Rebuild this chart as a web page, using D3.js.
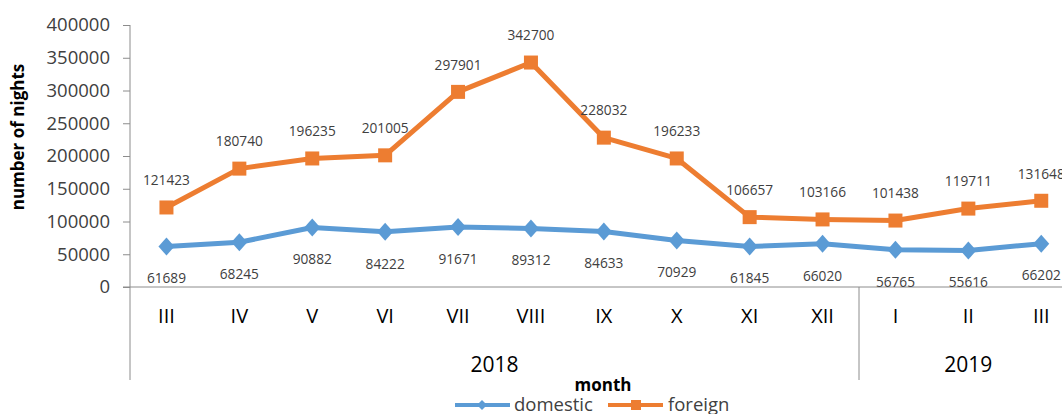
<!DOCTYPE html>
<html><head><meta charset="utf-8">
<script src="https://cdn.jsdelivr.net/npm/d3@7"></script>
<style>body{margin:0;background:#fff}svg{display:block;font-family:"Open Sans",sans-serif}</style>
</head><body><svg id="c" width="1062" height="414"></svg>
<script>
const months = ["III","IV","V","VI","VII","VIII","IX","X","XI","XII","I","II","III"];
const years = [{label:"2018", count:10},{label:"2019", count:3}];
const domestic = [61689,68245,90882,84222,91671,89312,84633,70929,61845,66020,56765,55616,66202];
const foreign = [121423,180740,196235,201005,297901,342700,228032,196233,106657,103166,101438,119711,131648];
const yTicks = [0,50000,100000,150000,200000,250000,300000,350000,400000];

const svg = d3.select("#c");
const x0 = 130, y0 = 287, yTop = 25, step = 72.9;
const idx = d3.range(months.length);
const x = d3.scaleBand().domain(idx).range([x0, x0 + step*months.length]).paddingInner(0).paddingOuter(0);
const y = d3.scaleLinear().domain([0,400000]).range([y0, yTop]);
const cx = i => x(i) + x.bandwidth()/2;
const axisCol = "#8c8c8c";

// y axis
const ya = svg.append("g").attr("transform",`translate(${x0},0)`)
  .call(d3.axisLeft(y).tickValues(yTicks).tickFormat(d3.format("d")).tickSize(7).tickPadding(13));
ya.select(".domain").remove();
ya.selectAll(".tick line").attr("stroke",axisCol);
ya.selectAll(".tick text").attr("font-size",18.5).attr("fill","#404040").attr("font-family","Open Sans");
svg.append("line").attr("x1",x0).attr("x2",x0).attr("y1",yTop).attr("y2",380).attr("stroke",axisCol);

// x axis line
svg.append("line").attr("x1",x0-7).attr("x2",1062).attr("y1",y0).attr("y2",y0).attr("stroke",axisCol);
// month labels
const xa = svg.append("g").attr("transform",`translate(0,${y0})`)
  .call(d3.axisBottom(x).tickFormat(i=>months[i]).tickSize(0).tickPadding(22));
xa.select(".domain").remove();
xa.selectAll(".tick text").attr("font-size",20).attr("fill","#000").attr("font-family","Open Sans");
// year groups
let start = 0;
years.forEach(g => {
  const a = x(start), b = x(start+g.count-1) + x.bandwidth();
  svg.append("text").attr("x",(a+b)/2).attr("y",372).attr("text-anchor","middle")
    .attr("font-size",21).attr("fill","#000").text(g.label);
  if (start > 0) svg.append("line").attr("x1",a).attr("x2",a).attr("y1",y0).attr("y2",380).attr("stroke",axisCol);
  start += g.count;
});

// axis titles
svg.append("text").attr("transform","translate(24,137) rotate(-90)").attr("text-anchor","middle")
  .attr("font-size",17).attr("font-weight","bold").attr("fill","#000").text("number of nights");
svg.append("text").attr("x",603).attr("y",391).attr("text-anchor","middle")
  .attr("font-size",17).attr("font-weight","bold").attr("fill","#000").text("month");

const line = d3.line().x((d,i)=>cx(i)).y(d=>y(d));
const blue = "#5b9bd5", orange = "#ed7d31";
// foreign
svg.append("path").datum(foreign).attr("d",line).attr("fill","none").attr("stroke",orange).attr("stroke-width",5).attr("stroke-linejoin","round");
svg.append("g").selectAll("rect").data(foreign).join("rect")
  .attr("x",(d,i)=>cx(i)-7).attr("y",d=>y(d)-7).attr("width",14).attr("height",14).attr("fill",orange);
// domestic
svg.append("path").datum(domestic).attr("d",line).attr("fill","none").attr("stroke",blue).attr("stroke-width",5).attr("stroke-linejoin","round");
const diamond = d3.symbol().type(d3.symbolDiamond).size(190);
svg.append("g").selectAll("path").data(domestic).join("path")
  .attr("transform",(d,i)=>`translate(${cx(i)},${y(d)}) rotate(0)`).attr("d",d=>"M0,-9L8,0L0,9L-8,0Z").attr("fill",blue);

// data labels
svg.append("g").selectAll("text").data(foreign).join("text")
  .attr("x",(d,i)=>cx(i)).attr("y",d=>y(d)-27).attr("dy","0.35em").attr("text-anchor","middle")
  .attr("font-size",13.7).attr("fill","#404040").text(d=>d);
svg.append("g").selectAll("text").data(domestic).join("text")
  .attr("x",(d,i)=>cx(i)).attr("y",d=>y(d)+32).attr("dy","0.35em").attr("text-anchor","middle")
  .attr("font-size",13.7).attr("fill","#404040").text(d=>d);

// legend
const lg = svg.append("g");
lg.append("line").attr("x1",455).attr("x2",510).attr("y1",405).attr("y2",405).attr("stroke",blue).attr("stroke-width",4);
lg.append("path").attr("d","M482,400L487,405L482,410L477,405Z").attr("fill",blue);
lg.append("text").attr("x",514).attr("y",411).attr("font-size",18.5).attr("fill","#404040").text("domestic");
lg.append("line").attr("x1",608).attr("x2",663).attr("y1",405).attr("y2",405).attr("stroke",orange).attr("stroke-width",4);
lg.append("rect").attr("x",631).attr("y",400).attr("width",10).attr("height",10).attr("fill",orange);
lg.append("text").attr("x",668).attr("y",411).attr("font-size",18.5).attr("fill","#404040").text("foreign");
</script></body></html>
